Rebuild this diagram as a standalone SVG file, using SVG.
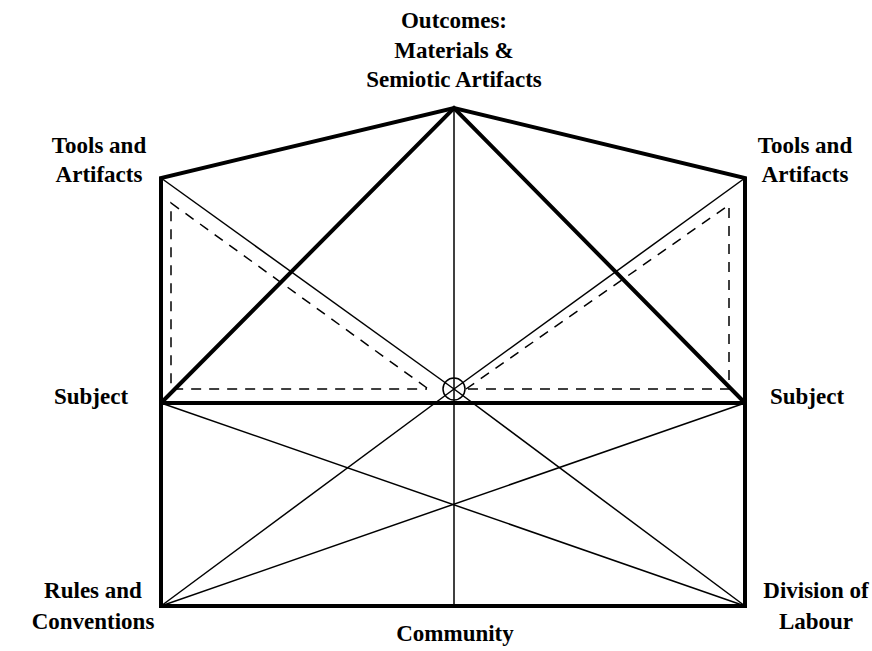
<svg xmlns="http://www.w3.org/2000/svg" width="872" height="651" viewBox="0 0 872 651">
<style>
.thick{stroke:#000;stroke-width:4;fill:none;stroke-linejoin:miter}
.thin{stroke:#000;stroke-width:1.5;fill:none}
.dash{stroke:#000;stroke-width:1.5;fill:none;stroke-dasharray:10 8}
</style>
<rect width="872" height="651" fill="#fff"/>
<g id="connectors">
<line class="thin" x1="454" y1="108" x2="454" y2="606"/>
<line class="thin" x1="161" y1="178" x2="454" y2="389"/>
<line class="thin" x1="745" y1="178" x2="454" y2="389"/>
<line class="thin" x1="454" y1="389" x2="161" y2="606"/>
<line class="thin" x1="454" y1="389" x2="745" y2="606"/>
<line class="thin" x1="161" y1="403" x2="745" y2="606"/>
<line class="thin" x1="745" y1="403" x2="161" y2="606"/>
<polyline class="dash" points="427,388 171,203 171,389 427,389"/>
<polyline class="dash" points="466,389 729,205 729,389 466,389"/>
<polyline class="thick" points="161,403 161,178 454,108 745,178 745,403"/>
<polyline class="thick" points="161,403 454,108 745,403"/>
<line class="thick" x1="161" y1="403" x2="745" y2="403"/>
<polyline class="thick" points="161,403 161,606 745,606 745,403"/>
<circle class="thin" cx="454" cy="389" r="11"/>
</g>
<g font-family="'Liberation Serif', 'DejaVu Serif', serif" font-weight="bold" font-size="23" text-anchor="middle" fill="#000">
<g id="outcomes"><text x="454" y="28">Outcomes:</text><text x="454" y="58">Materials &amp;</text><text x="454" y="87">Semiotic Artifacts</text></g>
<g id="tools-left"><text x="99" y="153">Tools and</text><text x="99" y="182">Artifacts</text></g>
<g id="tools-right"><text x="805" y="153">Tools and</text><text x="805" y="182">Artifacts</text></g>
<g id="subject-left"><text x="91" y="404">Subject</text></g>
<g id="subject-right"><text x="807" y="404">Subject</text></g>
<g id="rules"><text x="93" y="598">Rules and</text><text x="93" y="629">Conventions</text></g>
<g id="division"><text x="816" y="598">Division of</text><text x="816" y="629">Labour</text></g>
<g id="community"><text x="455" y="641">Community</text></g>
</g>
</svg>
